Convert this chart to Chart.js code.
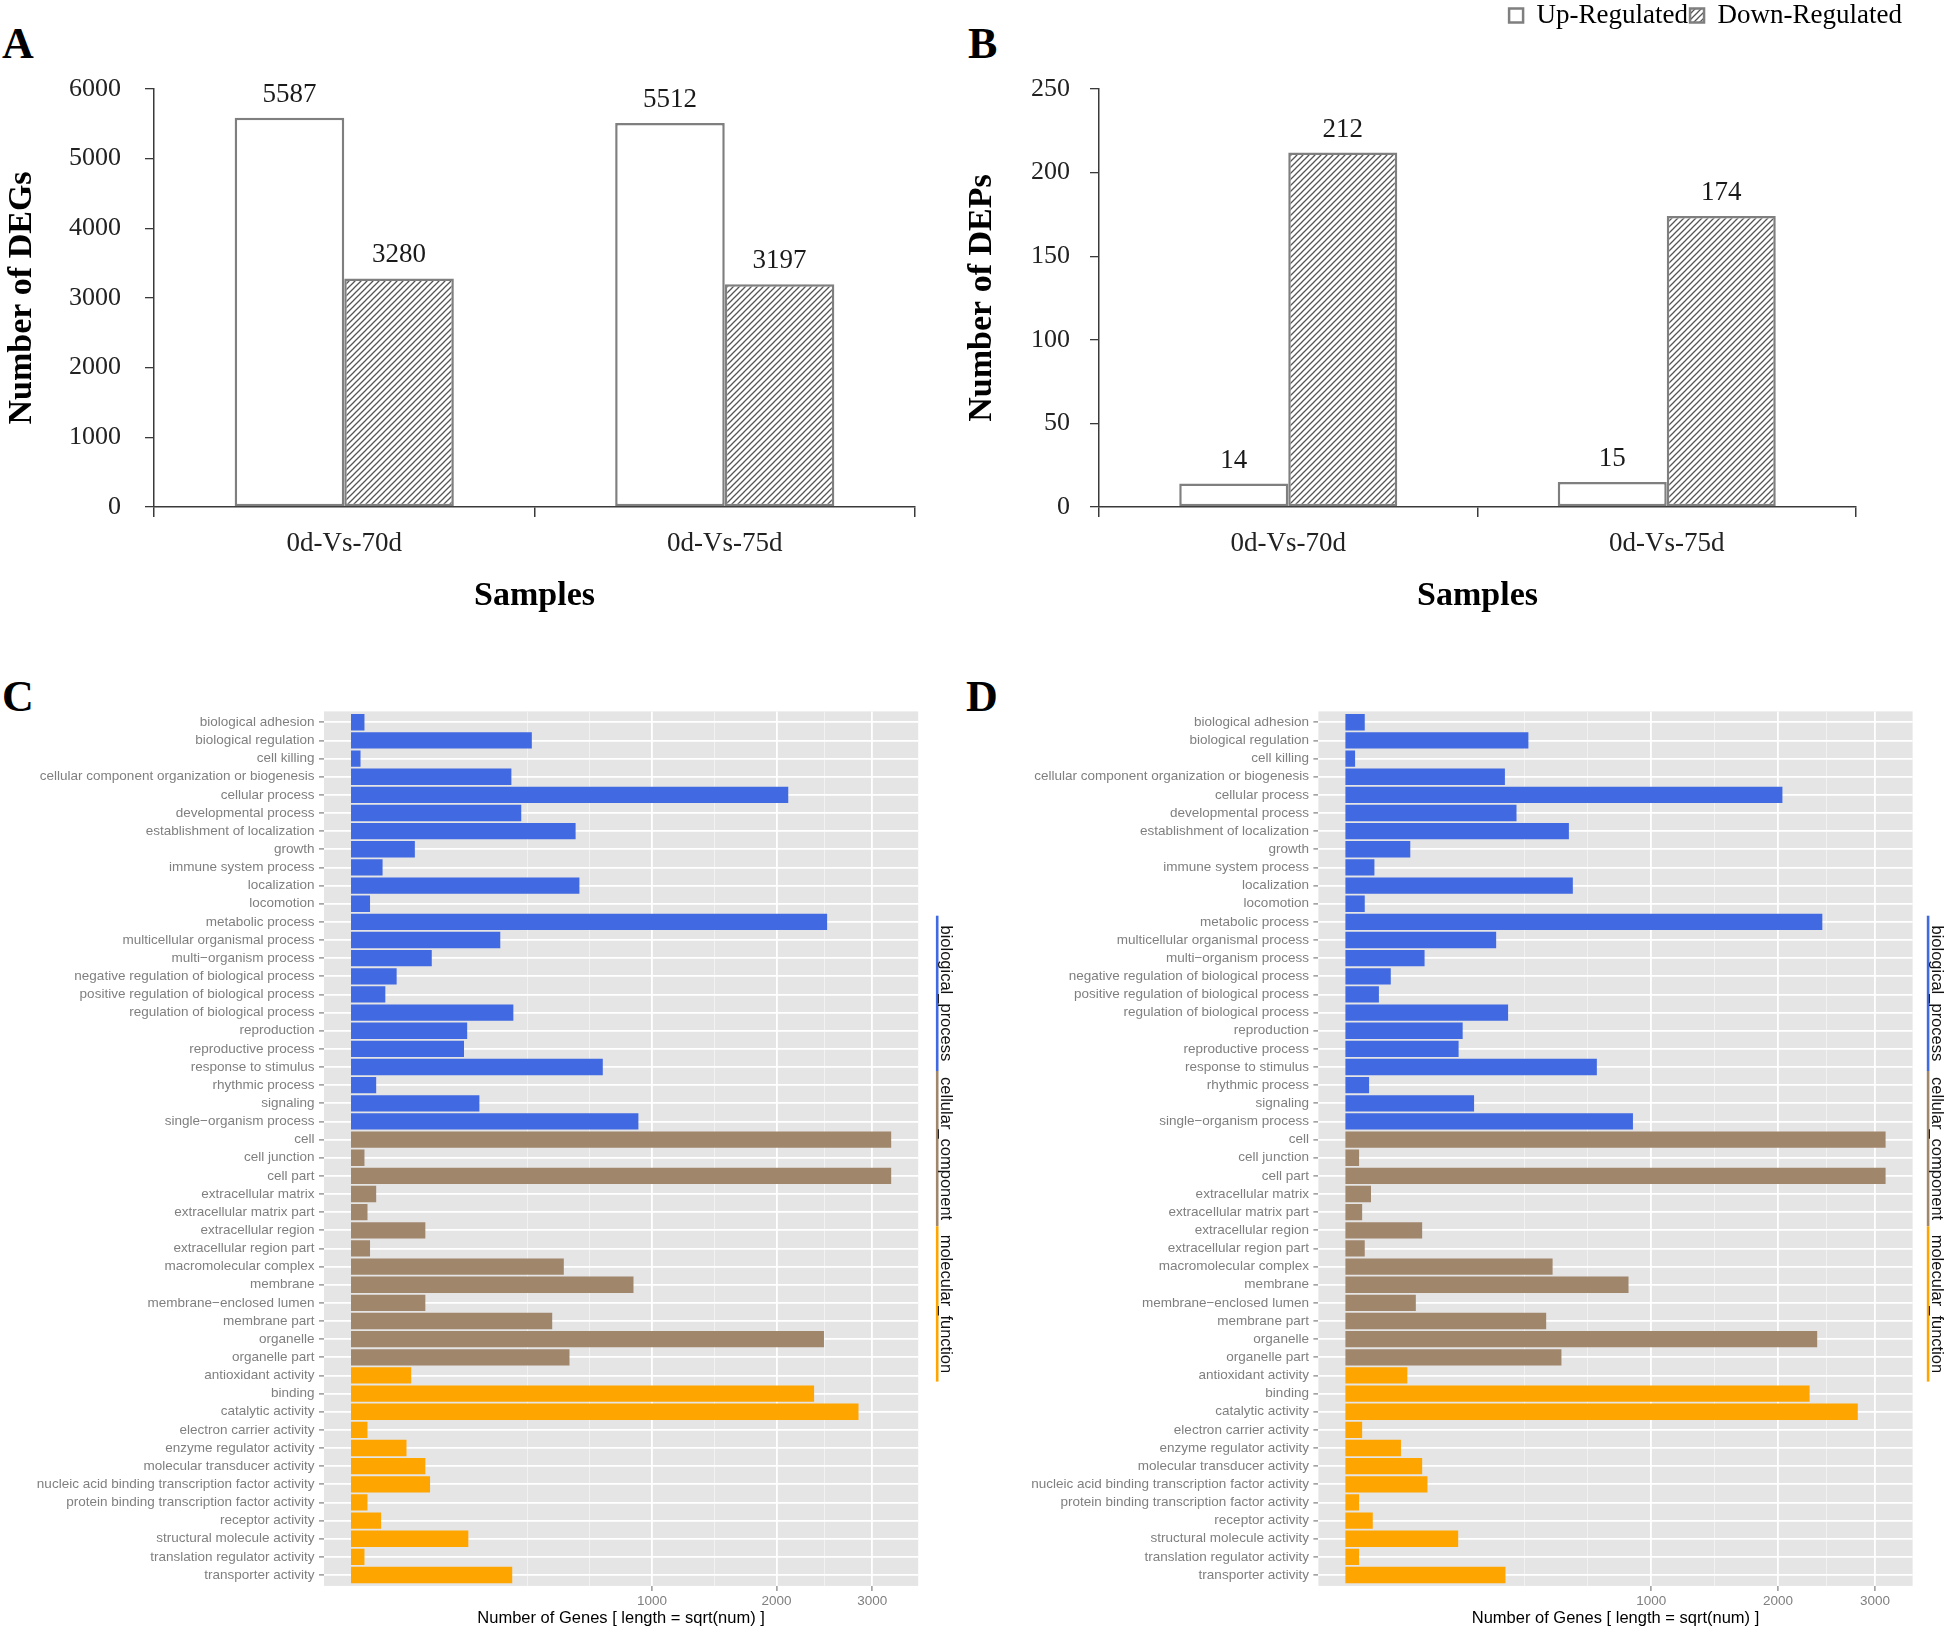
<!DOCTYPE html>
<html>
<head>
<meta charset="utf-8">
<title>DEGs / DEPs and GO classification</title>
<script src="https://cdn.jsdelivr.net/npm/chart.js@4.4.1/dist/chart.umd.min.js"></script>
<style>
  html, body { margin: 0; padding: 0; background: #ffffff; }
  body { width: 1946px; height: 1630px; position: relative; overflow: hidden; }
  canvas { position: absolute; }
  .tag { position: absolute; font-family: 'Liberation Serif', 'Times New Roman', serif; font-weight: bold;
         font-size: 44px; line-height: 1; color: #000; }
</style>
</head>
<body>
<div class="tag" style="left:2px;top:22px">A</div>
<div class="tag" style="left:968px;top:22px">B</div>
<div class="tag" style="left:2px;top:675px">C</div>
<div class="tag" style="left:966px;top:675px">D</div>

<canvas id="cA" width="960" height="640" style="left:0px;top:0px"></canvas>
<canvas id="cB" width="986" height="640" style="left:960px;top:0px"></canvas>
<canvas id="cC" width="973" height="950" style="left:0px;top:680px"></canvas>
<canvas id="cD" width="973" height="950" style="left:973px;top:680px"></canvas>

<script>
// ---------------- data ----------------
const SAMPLES = ['0d-Vs-70d', '0d-Vs-75d'];
const SERIES = ['Up-Regulated', 'Down-Regulated'];
const DEG_UP = [5587, 5512];
const DEG_DOWN = [3280, 3197];
const DEP_UP = [14, 15];
const DEP_DOWN = [212, 174];
const DEG_AXIS = { max: 6000, step: 1000 };
const DEP_AXIS = { max: 250, step: 50 };

const GO_GROUPS = ['biological_process', 'cellular_component', 'molecular_function'];
const BP_TERMS = ['biological adhesion', 'biological regulation', 'cell killing',
  'cellular component organization or biogenesis', 'cellular process', 'developmental process',
  'establishment of localization', 'growth', 'immune system process', 'localization', 'locomotion',
  'metabolic process', 'multicellular organismal process', 'multi\u2212organism process',
  'negative regulation of biological process', 'positive regulation of biological process',
  'regulation of biological process', 'reproduction', 'reproductive process', 'response to stimulus',
  'rhythmic process', 'signaling', 'single\u2212organism process'];
const CC_TERMS = ['cell', 'cell junction', 'cell part', 'extracellular matrix', 'extracellular matrix part',
  'extracellular region', 'extracellular region part', 'macromolecular complex', 'membrane',
  'membrane\u2212enclosed lumen', 'membrane part', 'organelle', 'organelle part'];
const MF_TERMS = ['antioxidant activity', 'binding', 'catalytic activity', 'electron carrier activity',
  'enzyme regulator activity', 'molecular transducer activity',
  'nucleic acid binding transcription factor activity', 'protein binding transcription factor activity',
  'receptor activity', 'structural molecule activity', 'translation regulator activity', 'transporter activity'];

const BP_C = [2, 361, 1, 284, 2111, 320, 557, 45, 11, 576, 4, 2503, 246, 72, 23, 13, 291, 149, 141, 700, 7, 182, 912];
const CC_C = [3222, 2, 3222, 7, 3, 61, 4, 500, 881, 61, 447, 2470, 527];
const MF_C = [40, 2368, 2844, 3, 34, 61, 69, 3, 10, 152, 2, 287];

const BP_D = [4, 358, 1, 272, 2042, 313, 534, 45, 9, 553, 4, 2432, 243, 67, 22, 12, 283, 147, 137, 676, 6, 177, 884];
const CC_D = [3120, 2, 3120, 7, 3, 63, 4, 459, 857, 53, 431, 2380, 499];
const MF_D = [41, 2304, 2807, 3, 33, 63, 72, 2, 8, 136, 2, 274];

const GENE_TICKS = [1000, 2000, 3000];

// ---------------- styles ----------------
const SERIF = "'Liberation Serif', 'Times New Roman', serif";
const SANS = "'Liberation Sans', Arial, Helvetica, sans-serif";
const GROUP_COLORS = ['#4169E1', '#A0866B', '#FFA500'];
const BAR_EDGE = '#7f7f7f';
const AXIS_LINE = '#3a3a3a';

Chart.defaults.font.family = SERIF;
Chart.defaults.color = '#000';

function hatchPattern() {
  const s = 6;
  const c = document.createElement('canvas');
  c.width = s; c.height = s;
  const g = c.getContext('2d');
  g.fillStyle = '#ffffff';
  g.fillRect(0, 0, s, s);
  g.strokeStyle = '#555555';
  g.lineWidth = 1.3;
  g.beginPath();
  g.moveTo(-1, s + 1); g.lineTo(s + 1, -1);
  g.moveTo(-s / 2 - 1, s / 2 + 1); g.lineTo(s / 2 + 1, -s / 2 - 1);
  g.moveTo(s / 2 - 1, s * 1.5 + 1); g.lineTo(s * 1.5 + 1, s / 2 - 1);
  g.stroke();
  return g.createPattern(c, 'repeat');
}
const HATCH = hatchPattern();

// value labels above bars (A, B)
const valueLabels = {
  id: 'valueLabels',
  afterDatasetsDraw(chart, args, o) {
    const ctx = chart.ctx;
    ctx.save();
    ctx.font = o.font;
    ctx.fillStyle = o.color;
    ctx.textAlign = 'center';
    ctx.textBaseline = 'alphabetic';
    chart.data.datasets.forEach((ds, i) => {
      chart.getDatasetMeta(i).data.forEach((bar, j) => {
        ctx.fillText(String(ds.data[j]), bar.x, bar.y - o.gap);
      });
    });
    ctx.restore();
  }
};

// extra room below the legend (B only)
const legendGap = {
  id: 'legendGap',
  beforeInit(chart) {
    const lg = chart.legend;
    if (!lg) return;
    const fit = lg.fit;
    lg.fit = function () {
      fit.call(this);
      if (this.options && this.options.display) {
        this.height += (chart.options.plugins.legendGap || {}).gap || 0;
      }
    };
  }
};

function barPanel(canvasId, up, down, axis, yTitle, withLegend) {
  const yWidth = withLegend ? 139 : 154;
  const scales = {
    x: {
      offset: true,
      grid: { display: true, offset: true, drawOnChartArea: false, drawTicks: true, tickLength: 10,
              color: AXIS_LINE, lineWidth: 1.5 },
      border: { display: true, color: AXIS_LINE, width: 1.5 },
      ticks: { font: { family: SERIF, size: 27 }, color: '#222', padding: 11 },
      title: { display: true, text: 'Samples', color: '#000',
               font: { family: SERIF, size: 34, weight: 'bold' }, padding: { top: 0, bottom: 23 } },
      afterFit(s) { s.height = 133; }
    },
    y: {
      min: 0, max: axis.max,
      grid: { drawOnChartArea: false, drawTicks: true, tickLength: 9, color: AXIS_LINE, lineWidth: 1.3 },
      border: { display: true, color: AXIS_LINE, width: 1.5 },
      ticks: { stepSize: axis.step, font: { family: SERIF, size: 26 }, color: '#222',
               padding: withLegend ? 20 : 24, callback: v => String(v) },
      title: { display: true, text: yTitle, color: '#000',
               font: { family: SERIF, size: 34, weight: 'bold' }, padding: { top: 2, bottom: 0 } },
      afterFit(s) { s.width = yWidth; }
    }
  };
  if (withLegend) {
    scales.yRight = {
      position: 'right', display: true, min: 0, max: 1,
      grid: { display: false }, border: { display: false }, ticks: { display: false },
      afterFit(s) { s.width = 48; }
    };
  }
  const plugins = withLegend ? [valueLabels, legendGap] : [valueLabels];
  return new Chart(document.getElementById(canvasId), {
    type: 'bar',
    data: {
      labels: SAMPLES,
      datasets: [
        { label: SERIES[0], data: up, backgroundColor: '#ffffff', borderColor: BAR_EDGE,
          borderWidth: 2.5, borderSkipped: false },
        { label: SERIES[1], data: down, backgroundColor: HATCH, borderColor: BAR_EDGE,
          borderWidth: 2.5, borderSkipped: false }
      ]
    },
    options: {
      responsive: false, animation: false, devicePixelRatio: 1,
      datasets: { bar: { categoryPercentage: 0.576, barPercentage: 1 } },
      layout: { padding: withLegend ? { top: 0, right: 42, bottom: 0, left: 0 }
                                     : { top: 89, right: 45, bottom: 0, left: 0 } },
      plugins: {
        tooltip: { enabled: false },
        legend: withLegend ? {
          display: true, position: 'top', align: 'end',
          labels: { boxWidth: 14, boxHeight: 14, padding: 2, color: '#000',
                    font: { family: SERIF, size: 27 } }
        } : { display: false },
        legendGap: { gap: 50 },
        valueLabels: { font: "27px " + SERIF, color: '#1a1a1a', gap: 16 }
      },
      scales
    },
    plugins
  });
}

barPanel('cA', DEG_UP, DEG_DOWN, DEG_AXIS, 'Number of DEGs', false);
barPanel('cB', DEP_UP, DEP_DOWN, DEP_AXIS, 'Number of DEPs', true);

// ---------------- sqrt scale for GO panels ----------------
class SqrtScale extends Chart.LinearScale {
  static id = 'sqrt';
  static defaults = Chart.LinearScale.defaults;
  _tf(v) { return Math.sign(v) * Math.sqrt(Math.abs(v)); }
  getPixelForValue(value) {
    const a = this._tf(this.min), b = this._tf(this.max);
    return this.getPixelForDecimal((this._tf(value) - a) / (b - a));
  }
  getValueForPixel(pixel) {
    const a = this._tf(this.min), b = this._tf(this.max);
    const s = a + this.getDecimalForPixel(pixel) * (b - a);
    return Math.sign(s) * s * s;
  }
}
Chart.register(SqrtScale);

// grey panel background
const panelBg = {
  id: 'panelBg',
  beforeDraw(chart, args, o) {
    const { ctx, chartArea: a } = chart;
    ctx.save();
    ctx.fillStyle = o.color;
    ctx.fillRect(a.left, a.top, a.right - a.left, a.bottom - a.top);
    ctx.restore();
  }
};

// ontology key on the right
const goStrip = {
  id: 'goStrip',
  afterDraw(chart, args, o) {
    const { ctx, chartArea: a } = chart;
    const mid = (a.top + a.bottom) / 2;
    const y0 = mid - o.segment * o.groups.length / 2;
    ctx.save();
    o.groups.forEach((g, i) => {
      const ys = y0 + i * o.segment;
      ctx.strokeStyle = o.colors[i];
      ctx.lineWidth = o.lineWidth;
      ctx.beginPath();
      ctx.moveTo(a.right + o.lineOffset, ys);
      ctx.lineTo(a.right + o.lineOffset, ys + o.segment);
      ctx.stroke();
      ctx.save();
      ctx.translate(a.right + o.lineOffset + o.textGap, ys + o.segment / 2);
      ctx.rotate(Math.PI / 2);
      ctx.font = o.font;
      ctx.fillStyle = o.color;
      ctx.textAlign = 'center';
      ctx.textBaseline = 'middle';
      ctx.fillText(g, 0, 0);
      ctx.restore();
    });
    ctx.restore();
  }
};

function goPanel(canvasId, bp, cc, mf, yWidth, padRight, stripOffset) {
  const labels = [...BP_TERMS, ...CC_TERMS, ...MF_TERMS];
  const values = [...bp, ...cc, ...mf];
  const colors = [...bp.map(() => GROUP_COLORS[0]), ...cc.map(() => GROUP_COLORS[1]),
                  ...mf.map(() => GROUP_COLORS[2])];
  // ggplot-like 5% expansion in sqrt space
  const sMax = Math.sqrt(Math.max(...values));
  const ex = 0.05 * sMax;
  const xMin = -(ex * ex), xMax = (sMax + ex) * (sMax + ex);
  // minor breaks: midpoints (sqrt space) of majors, extended one step below
  const sq = GENE_TICKS.map(Math.sqrt);
  const ext = 2 * sq[0] - sq[1];
  const minorS = [ext, (ext + sq[0]) / 2];
  for (let i = 0; i < sq.length - 1; i++) minorS.push((sq[i] + sq[i + 1]) / 2);
  const minor = minorS.map(s => s * s);
  const allTicks = [...minor, ...GENE_TICKS].sort((p, q) => p - q);
  const isMajor = v => GENE_TICKS.includes(v);

  return new Chart(document.getElementById(canvasId), {
    type: 'bar',
    data: {
      labels,
      datasets: [{ data: values, backgroundColor: colors, borderWidth: 0,
                   barPercentage: 0.9, categoryPercentage: 1 }]
    },
    options: {
      indexAxis: 'y',
      responsive: false, animation: false, devicePixelRatio: 1,
      layout: { padding: { top: 31.4, right: padRight, bottom: 0, left: 0 } },
      plugins: {
        legend: { display: false }, tooltip: { enabled: false },
        panelBg: { color: '#E5E5E5' },
        goStrip: { groups: GO_GROUPS, colors: GROUP_COLORS, segment: 155.3, lineWidth: 2.6,
                   lineOffset: stripOffset, textGap: 8.5, font: '16.5px ' + SANS, color: '#111' }
      },
      scales: {
        x: {
          type: 'sqrt', min: xMin, max: xMax, bounds: 'data',
          afterBuildTicks(s) { s.ticks = allTicks.map(v => ({ value: v, major: isMajor(v) })); },
          grid: {
            drawTicks: true, tickLength: 5,
            color: c => (c.tick && isMajor(c.tick.value)) ? '#FFFFFF' : '#F2F2F2',
            lineWidth: c => (c.tick && isMajor(c.tick.value)) ? 1.8 : 1,
            tickColor: c => (c.tick && isMajor(c.tick.value)) ? '#7f7f7f' : 'rgba(0,0,0,0)',
            tickWidth: 1.2
          },
          border: { display: false },
          ticks: { autoSkip: false, maxRotation: 0, padding: 2.5, color: '#7f7f7f',
                   font: { family: SANS, size: 13.5 },
                   callback: v => isMajor(v) ? String(v) : '' },
          title: { display: true, text: 'Number of Genes [ length = sqrt(num) ]', color: '#000',
                   font: { family: SANS, size: 16.5 }, padding: { top: 0, bottom: 2 } },
          afterFit(s) { s.height = 44.1; }
        },
        y: {
          type: 'category', offset: true,
          afterBuildTicks(s) { s._startValue -= 0.1; s._valueRange += 0.2; },
          grid: { offset: false, color: '#FFFFFF', lineWidth: 1.8, drawTicks: true, tickLength: 5,
                  tickColor: '#7f7f7f', tickWidth: 1.2 },
          border: { display: false },
          ticks: { autoSkip: false, padding: 4.5, color: '#7f7f7f', font: { family: SANS, size: 13.5 } },
          afterFit(s) { s.width = yWidth; }
        }
      }
    },
    plugins: [panelBg, goStrip]
  });
}

goPanel('cC', BP_C, CC_C, MF_C, 324, 54.8, 19);
goPanel('cD', BP_D, CC_D, MF_D, 345.4, 33.4, 15.5);
</script>
</body>
</html>
